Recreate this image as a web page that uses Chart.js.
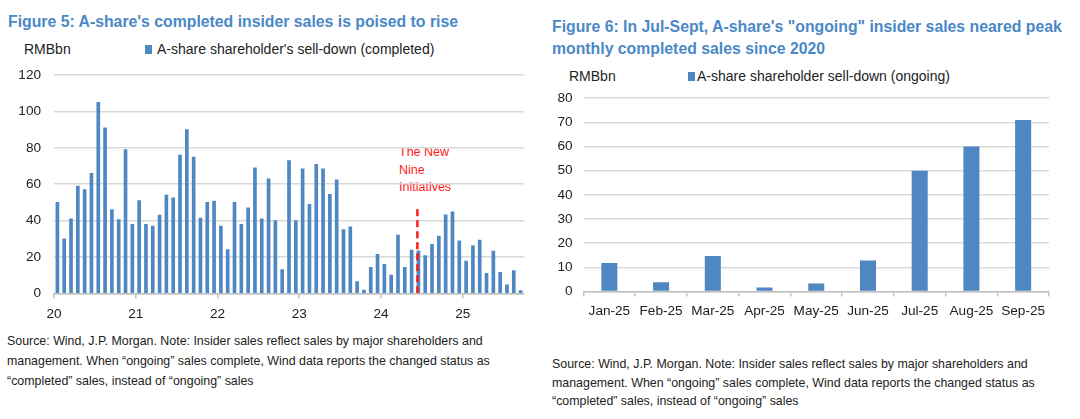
<!DOCTYPE html>
<html><head><meta charset="utf-8">
<script src="https://cdn.jsdelivr.net/npm/chart.js@4.4.1/dist/chart.umd.min.js"></script>
<style>
html,body{margin:0;padding:0;background:#fff;width:1080px;height:419px;overflow:hidden;font-family:"Liberation Sans",Arial,sans-serif;color:#222;}
.abs{position:absolute;white-space:nowrap;}
.title{font-weight:bold;color:#4b88c6;font-size:15.8px;line-height:22px;}
.unit{font-size:14px;}
.leg{font-size:14px;}
.leg i{position:absolute;left:0;top:4px;width:7px;height:9px;background:#4f87c2;}
.leg span{margin-left:12px;}
.src{font-size:12.4px;line-height:19.8px;}
.ann{color:#ff1a1a;font-size:12.5px;line-height:17.5px;}
#c1wrap{position:absolute;left:0;top:54px;width:540px;height:271px;}
#c2wrap{position:absolute;left:540px;top:78.5px;width:540px;height:251.5px;}
</style></head>
<body>
<div class="abs title" style="left:8px;top:11px;">Figure 5: A-share's completed insider sales is poised to rise</div>
<div class="abs unit" style="left:24px;top:41px;">RMBbn</div>
<div class="abs leg" style="left:145px;top:41px;"><i></i><span>A-share shareholder's sell-down (completed)</span></div>
<div class="abs ann" style="left:399px;top:144px;">The New<br>Nine<br>Initiatives</div>
<div class="abs src" style="left:7px;top:332px;">Source: Wind, J.P. Morgan. Note: Insider sales reflect sales by major shareholders and<br>management. When “ongoing” sales complete, Wind data reports the changed status as<br>“completed” sales, instead of “ongoing” sales</div>

<div class="abs title" style="left:552px;top:15.5px;">Figure 6: In Jul-Sept, A-share's "ongoing" insider sales neared peak<br>monthly completed sales since 2020</div>
<div class="abs unit" style="left:569px;top:67.5px;">RMBbn</div>
<div class="abs leg" style="left:688px;top:67.5px;"><i></i><span style="margin-left:9px;">A-share shareholder sell-down (ongoing)</span></div>
<div class="abs src" style="left:552px;top:355px;line-height:18.5px;">Source: Wind, J.P. Morgan. Note: Insider sales reflect sales by major shareholders and<br>management. When “ongoing” sales complete, Wind data reports the changed status as<br>“completed” sales, instead of “ongoing” sales</div>

<div id="c1wrap"><canvas id="c1"></canvas></div>
<div id="c2wrap"><canvas id="c2"></canvas></div>

<script>
// ---- Figure 5 data: monthly completed sell-down, Jan-2020 .. Sep-2025 (RMBbn)
const completedValues = [
  50, 30, 41, 59, 57, 66, 105, 91, 46, 40.5, 79, 38,
  51, 38, 37, 43, 54, 52.5, 76, 90, 75, 41.4, 50, 50.7,
  37, 24, 50, 38, 47, 69, 41, 63, 40, 13, 73, 40,
  68.5, 49, 71, 68.5, 54.4, 62.4, 35, 36.6, 6.4, 1.8, 14.3, 21.4,
  16, 10, 32, 14.3, 23.8, 23.4, 20.7, 27, 31.5, 43.2, 44.8, 28.8,
  17.7, 26.3, 29.3, 11, 23.2, 11.6, 4.7, 12.5, 1.5
];
const yearTickLabels = ['20', '21', '22', '23', '24', '25'];
const leftYTicks = [0, 20, 40, 60, 80, 100, 120];
// "The New Nine Initiatives" marker (position in months since Jan-2020, height in RMBbn)
const nineMonthPos = [53.35, 53.35];
const nineMarkerValues = [0, 48];

// ---- Figure 6 data
const ongoingCategories = ['Jan-25', 'Feb-25', 'Mar-25', 'Apr-25', 'May-25', 'Jun-25', 'Jul-25', 'Aug-25', 'Sep-25'];
const ongoingValues = [11.8, 3.8, 14.7, 1.7, 3.3, 12.8, 50, 60, 71];
const rightYTicks = [0, 10, 20, 30, 40, 50, 60, 70, 80];

const BLUE = '#4f87c2';
const GRID = '#d9d9d9';
const AXIS = '#bfbfbf';
const TICKC = '#222';
const FONT = {family: '"Liberation Sans", Arial, sans-serif', size: 13.6};

Chart.defaults.animation = false;

new Chart(document.getElementById('c1'), {
  type: 'bar',
  data: {
    datasets: [
      {
        type: 'bar',
        data: completedValues.map((v, i) => ({x: i + 0.5, y: v})),
        backgroundColor: BLUE,
        barThickness: 3,
        order: 2
      },
      {
        type: 'line',
        data: nineMonthPos.map((x, i) => ({x: x, y: nineMarkerValues[i]})),
        borderColor: '#ff1a1a',
        borderWidth: 2.5,
        borderDash: [7, 4],
        pointRadius: 0,
        order: 1
      }
    ]
  },
  options: {
    responsive: true, maintainAspectRatio: false,
    layout: {padding: {left: 0, right: 16, top: 10, bottom: 0}},
    plugins: {legend: {display: false}, tooltip: {enabled: false}},
    scales: {
      x: {
        type: 'linear', min: 0, max: completedValues.length, offset: false,
        afterBuildTicks: s => { s.ticks = yearTickLabels.map((t, i) => ({value: i * 12})); },
        ticks: {callback: (v, i) => yearTickLabels[i], color: TICKC, font: FONT, padding: 8, maxRotation: 0, autoSkip: false},
        grid: {offset: false, drawOnChartArea: false, drawTicks: true, tickLength: 5, color: AXIS, lineWidth: 1.5},
        border: {display: true, color: AXIS, width: 1.5},
        afterFit: s => { s.height = 31.7; }
      },
      y: {
        min: 0, max: 120,
        afterBuildTicks: s => { s.ticks = leftYTicks.map(v => ({value: v})); },
        ticks: {color: TICKC, font: FONT, padding: 13},
        grid: {color: GRID, lineWidth: 1.5, drawTicks: false},
        border: {display: false},
        afterFit: s => { s.width = 54; }
      }
    }
  }
});

new Chart(document.getElementById('c2'), {
  type: 'bar',
  data: {
    labels: ongoingCategories,
    datasets: [{
      data: ongoingValues,
      backgroundColor: BLUE,
      categoryPercentage: 1,
      barPercentage: 0.31
    }]
  },
  options: {
    responsive: true, maintainAspectRatio: false,
    layout: {padding: {left: 0, right: 31, top: 12.3, bottom: 0}},
    plugins: {legend: {display: false}, tooltip: {enabled: false}},
    scales: {
      x: {
        ticks: {color: TICKC, font: FONT, padding: 7, maxRotation: 0, autoSkip: false},
        grid: {offset: true, drawOnChartArea: false, drawTicks: true, tickLength: 5, color: AXIS, lineWidth: 1.5},
        border: {display: true, color: AXIS, width: 1.5},
        afterFit: s => { s.height = 39; }
      },
      y: {
        min: 0, max: 80,
        afterBuildTicks: s => { s.ticks = rightYTicks.map(v => ({value: v})); },
        ticks: {color: TICKC, font: FONT, padding: 11},
        grid: {color: GRID, lineWidth: 1.5, drawTicks: false},
        border: {display: false},
        afterFit: s => { s.width = 43.5; }
      }
    }
  }
});
</script>
</body></html>
